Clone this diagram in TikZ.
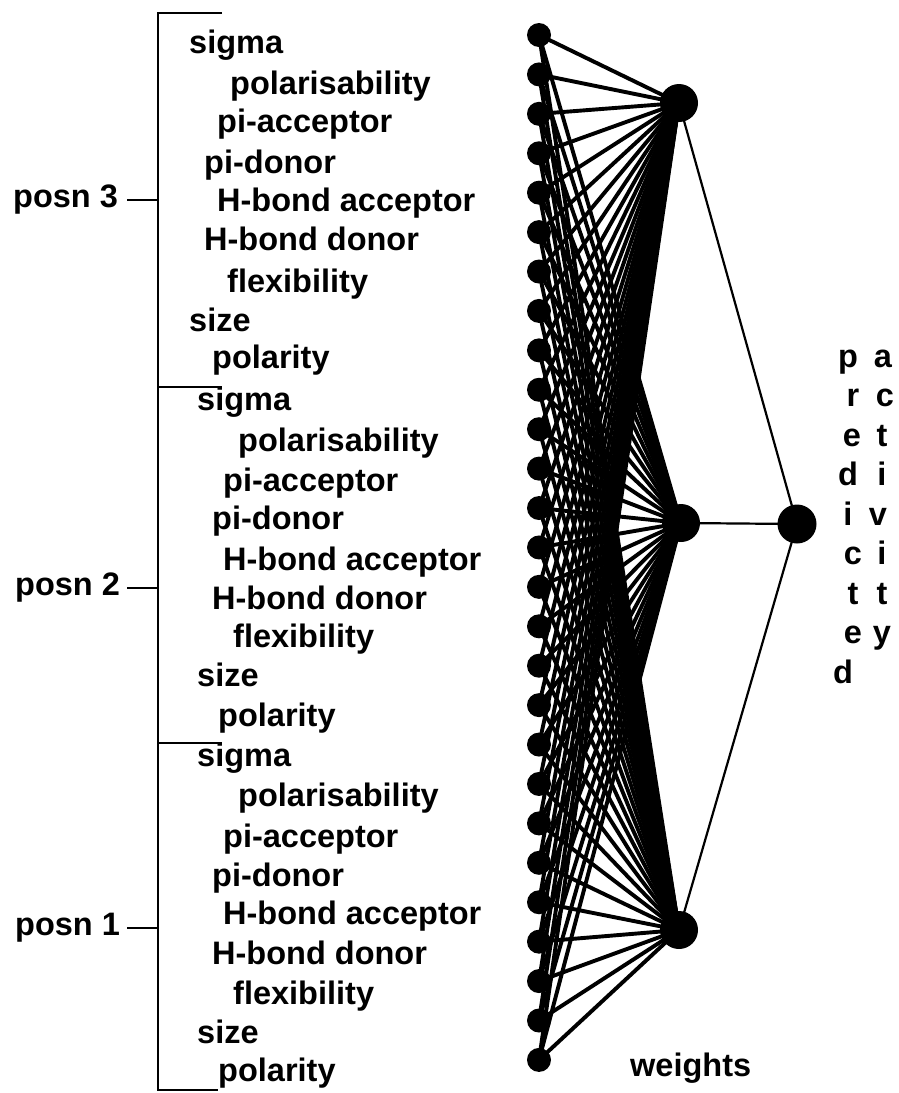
\documentclass[tikz,border=0pt]{standalone}
\usepackage{fontspec}
\setmainfont{Liberation Sans}
\newcommand\lblfont{\fontsize{32.5}{38}\selectfont\bfseries}
\begin{document}
\begin{tikzpicture}[x=1pt,y=-1pt,
  inp/.style={circle,fill=black,inner sep=0pt,minimum size=24pt},
  hid/.style={circle,fill=black,inner sep=0pt,minimum size=38pt},
  lbl/.style={anchor=mid west,inner sep=0pt,font=\lblfont},
  ltr/.style={anchor=mid,inner sep=0pt,font=\lblfont},
  wline/.style={line width=3.9pt},
  oline/.style={line width=2.2pt},
  brk/.style={line width=2pt}]
\useasboundingbox (0,0) rectangle (899,1093);
% input nodes
\foreach \k in {1,...,27} {
  \node[inp] (i\k) at (539,{35+(\k-1)*39.42}) {};
}
% hidden and output nodes
\node[hid] (h3) at (679,103) {};
\node[hid] (h2) at (681,523) {};
\node[hid] (h1) at (679,930) {};
\node[hid,minimum size=39pt] (o) at (797,524) {};
% weights
\foreach \k in {1,...,27} {
  \foreach \h in {1,2,3} {
    \draw[wline] (i\k.center) -- (h\h.center);
  }
}
\foreach \h in {1,2,3} { \draw[oline] (h\h.center) -- (o.center); }
% bracket
\coordinate (t0) at (222,13);
\coordinate (c0) at (158,13);
\coordinate (c1) at (158,1090);
\coordinate (t1) at (218,1090);
\draw[brk] (t0) -- (c0) -- (c1) -- (t1);
\coordinate (ca) at (158,387); \coordinate (ta) at (222,387);
\coordinate (cb) at (158,743); \coordinate (tb) at (222,743);
\draw[brk] (ca) -- (ta);
\draw[brk] (cb) -- (tb);
% posn labels
\node[lbl] (p3) at (13,205) {posn 3};
\node[lbl] (p2) at (15,593) {posn 2};
\node[lbl] (p1) at (15,933) {posn 1};
\coordinate (d3) at (127,200); \coordinate (b3) at (158,200);
\coordinate (d2) at (127,588); \coordinate (b2) at (158,588);
\coordinate (d1) at (127,928); \coordinate (b1) at (158,928);
\draw[brk] (d3) -- (b3);
\draw[brk] (d2) -- (b2);
\draw[brk] (d1) -- (b1);
% group 3 (top)
\node[lbl] (a1) at (189,51) {sigma};
\node[lbl] (a2) at (230,92) {polarisability};
\node[lbl] (a3) at (217,130) {pi-acceptor};
\node[lbl] (a4) at (204,171) {pi-donor};
\node[lbl] (a5) at (217,209) {H-bond acceptor};
\node[lbl] (a6) at (204,248) {H-bond donor};
\node[lbl] (a7) at (227,290) {flexibility};
\node[lbl] (a8) at (189,329) {size};
\node[lbl] (a9) at (212,366) {polarity};
% group 2
\node[lbl] (b1l) at (197,408) {sigma};
\node[lbl] (b2l) at (238,449) {polarisability};
\node[lbl] (b3l) at (223,489) {pi-acceptor};
\node[lbl] (b4l) at (212,527) {pi-donor};
\node[lbl] (b5l) at (223,568) {H-bond acceptor};
\node[lbl] (b6l) at (212,607) {H-bond donor};
\node[lbl] (b7l) at (233,645) {flexibility};
\node[lbl] (b8l) at (197,684) {size};
\node[lbl] (b9l) at (218,724) {polarity};
% group 1
\node[lbl] (c1l) at (197,764) {sigma};
\node[lbl] (c2l) at (238,804) {polarisability};
\node[lbl] (c3l) at (223,845) {pi-acceptor};
\node[lbl] (c4l) at (212,884) {pi-donor};
\node[lbl] (c5l) at (223,922) {H-bond acceptor};
\node[lbl] (c6l) at (212,962) {H-bond donor};
\node[lbl] (c7l) at (233,1002) {flexibility};
\node[lbl] (c8l) at (197,1041) {size};
\node[lbl] (c9l) at (218,1079) {polarity};
% weights label
\node[lbl] (w) at (630,1074) {weights};
% predicted activity
\node[ltr] (q1) at (848,365) {p};
\node[ltr] (q2) at (853,404) {r};
\node[ltr] (q3) at (852,444) {e};
\node[ltr] (q4) at (848,483) {d};
\node[ltr] (q5) at (848,523) {i};
\node[ltr] (q6) at (853,562) {c};
\node[ltr] (q7) at (853,602) {t};
\node[ltr] (q8) at (853,641) {e};
\node[ltr] (q9) at (843,681) {d};
\node[ltr] (r1) at (883,365) {a};
\node[ltr] (r2) at (885,404) {c};
\node[ltr] (r3) at (882,444) {t};
\node[ltr] (r4) at (882,483) {i};
\node[ltr] (r5) at (878,523) {v};
\node[ltr] (r6) at (882,562) {i};
\node[ltr] (r7) at (882,602) {t};
\node[ltr] (r8) at (882,641) {y};
\end{tikzpicture}
\end{document}
